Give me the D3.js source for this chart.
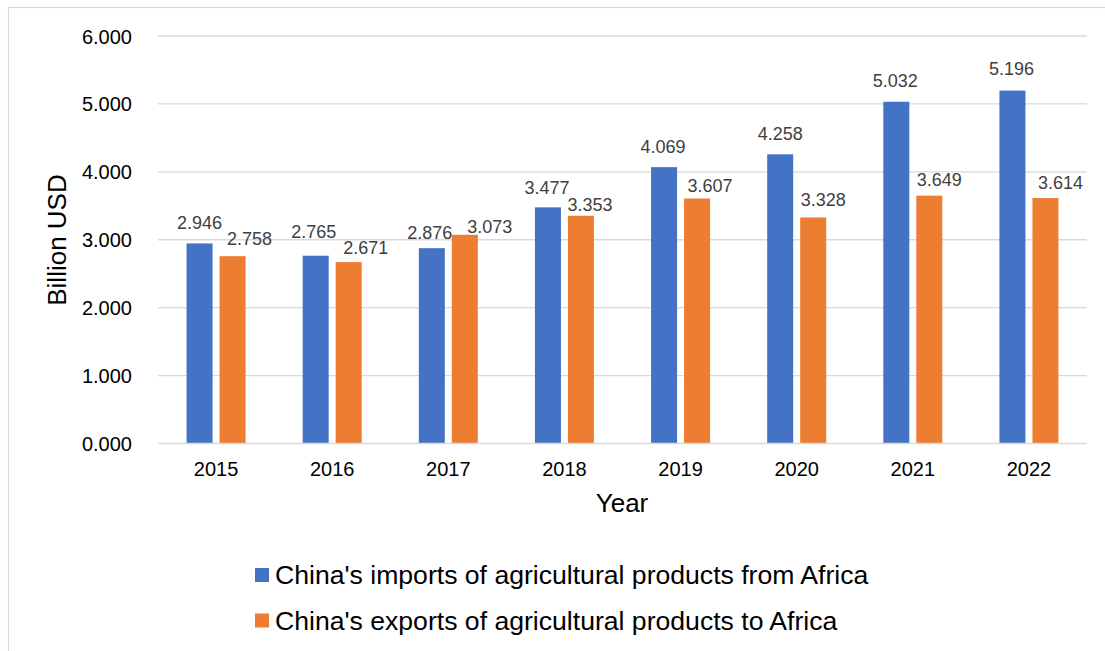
<!DOCTYPE html>
<html>
<head>
<meta charset="utf-8">
<script src="https://cdn.jsdelivr.net/npm/d3@7"></script>
<style>
  body { margin: 0; background: #fff; }
  svg { display: block; font-family: "Liberation Sans", Arial, sans-serif; }
</style>
</head>
<body>
<svg width="1105" height="651"></svg>
<script>
// data
var years = ["2015", "2016", "2017", "2018", "2019", "2020", "2021", "2022"];
var imports = [2.946, 2.765, 2.876, 3.477, 4.069, 4.258, 5.032, 5.196];
var exports = [2.758, 2.671, 3.073, 3.353, 3.607, 3.328, 3.649, 3.614];
var seriesNames = ["China's imports of agricultural products from Africa",
                   "China's exports of agricultural products to Africa"];
var yTicks = [0, 1, 2, 3, 4, 5, 6];

// label nudges (dx, dy from bar top) as the labels were moved by hand in the original
var importNudge = [[0,-21],[-2,-24],[-2,-15],[-1,-20],[-1,-20],[0,-21],[-1,-21],[-1,-22]];
var exportNudge = [[17,-17],[17,-14],[25,-8],[9,-11],[13,-13],[10,-18],[10,-16],[15,-15]];

var colors = ["#4472c4", "#ed7d31"];

var svg = d3.select("svg");

// outer frame
svg.append("rect").attr("x", 8.5).attr("y", 7.5).attr("width", 1200).attr("height", 700)
  .attr("fill", "none").attr("stroke", "#d9d9d9").attr("stroke-width", 1.2);

var plotLeft = 158, plotRight = 1087, plotTop = 36, plotBottom = 443.5;

var x0 = d3.scaleBand().domain(years).range([plotLeft, plotRight]).paddingInner(0).paddingOuter(0);
var bw = x0.bandwidth();
var x1 = d3.scaleBand().domain([0, 1]).range([(bw - 59) / 2, (bw + 59) / 2]).paddingInner(0.212);
var y = d3.scaleLinear().domain([0, 6]).range([plotBottom, plotTop]);

// gridlines
svg.append("g").selectAll("line").data(yTicks.filter(function(d){ return d > 0; })).enter()
  .append("line")
  .attr("x1", plotLeft).attr("x2", plotRight)
  .attr("y1", function(d){ return y(d); }).attr("y2", function(d){ return y(d); })
  .attr("stroke", "#d9d9d9").attr("stroke-width", 1.3);

// y axis labels
var yAxis = svg.append("g").attr("transform", "translate(" + 132 + ",0)")
  .call(d3.axisLeft(y).tickValues(yTicks).tickFormat(d3.format(".3f")).tickSize(0).tickPadding(0));
yAxis.select(".domain").remove();
yAxis.selectAll("text").attr("font-size", 20).attr("fill", "#000")
  .attr("font-family", "Liberation Sans, Arial, sans-serif").attr("dy", "0.35em");

// bars
var rows = years.map(function(yr, i){ return { year: yr, vals: [imports[i], exports[i]] }; });
var groups = svg.append("g").selectAll("g").data(rows).enter().append("g")
  .attr("transform", function(d){ return "translate(" + x0(d.year) + ",0)"; });
groups.selectAll("rect").data(function(d){ return d.vals; }).enter().append("rect")
  .attr("x", function(d, j){ return x1(j); })
  .attr("width", x1.bandwidth())
  .attr("y", function(d){ return y(d); })
  .attr("height", function(d){ return plotBottom - y(d); })
  .attr("fill", function(d, j){ return colors[j]; });

// baseline
svg.append("line").attr("x1", plotLeft).attr("x2", plotRight).attr("y1", plotBottom).attr("y2", plotBottom)
  .attr("stroke", "#d9d9d9").attr("stroke-width", 1.5);

// x axis labels
var xAxis = svg.append("g").attr("transform", "translate(0," + 469 + ")")
  .call(d3.axisBottom(x0).tickSize(0).tickPadding(0));
xAxis.select(".domain").remove();
xAxis.selectAll("text").attr("font-size", 20).attr("fill", "#000")
  .attr("font-family", "Liberation Sans, Arial, sans-serif").attr("dy", "0.35em");

// data labels
var fmt = d3.format(".3f");
[imports, exports].forEach(function(vals, j){
  var nudge = j === 0 ? importNudge : exportNudge;
  svg.append("g").selectAll("text").data(vals).enter().append("text")
    .attr("x", function(d, i){ return x0(years[i]) + x1(j) + x1.bandwidth() / 2 + nudge[i][0]; })
    .attr("y", function(d, i){ return y(d) + nudge[i][1]; })
    .attr("dy", "0.35em")
    .attr("text-anchor", "middle")
    .attr("font-size", 18)
    .attr("fill", "#404040")
    .text(function(d){ return fmt(d); });
});

// axis titles
svg.append("text").attr("x", 622).attr("y", 512).attr("text-anchor", "middle")
  .attr("font-size", 26).attr("fill", "#000").text("Year");
svg.append("text").attr("transform", "translate(66,240) rotate(-90)").attr("text-anchor", "middle")
  .attr("font-size", 26).attr("fill", "#000").text("Billion USD");

// legend
var legend = svg.append("g").selectAll("g").data(seriesNames).enter().append("g")
  .attr("transform", function(d, i){ return "translate(255," + (568 + i * 45.5) + ")"; });
legend.append("rect").attr("width", 14).attr("height", 14)
  .attr("fill", function(d, i){ return colors[i]; });
legend.append("text").attr("x", 20).attr("y", 16.3).attr("font-size", 26.6).attr("fill", "#000")
  .text(function(d){ return d; });
</script>
</body>
</html>
